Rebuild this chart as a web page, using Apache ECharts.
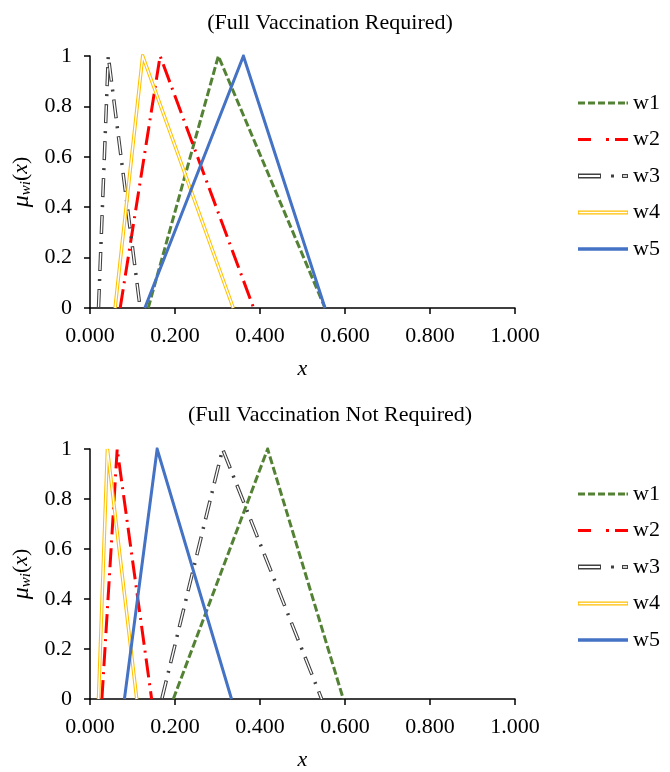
<!DOCTYPE html>
<html><head><meta charset="utf-8">
<script src="https://cdn.jsdelivr.net/npm/echarts@6/dist/echarts.min.js"></script>
<style>html,body{margin:0;padding:0;background:#fff}#c{width:670px;height:772px}</style>
</head><body><div id="c"></div>
<script>
// ---------- data ----------
const seriesNames = ['w1', 'w2', 'w3', 'w4', 'w5'];
const membership = [0, 1, 0];            // membership at left foot, peak, right foot
// x positions (left foot, peak, right foot) — Full Vaccination Required
const topW1 = [0.137, 0.302, 0.553];
const topW2 = [0.071, 0.165, 0.385];
const topW3 = [0.020, 0.043, 0.118];
const topW4 = [0.059, 0.124, 0.337];
const topW5 = [0.129, 0.361, 0.553];
// x positions — Full Vaccination Not Required
const botW1 = [0.196, 0.418, 0.596];
const botW2 = [0.028, 0.064, 0.145];
const botW3 = [0.169, 0.312, 0.545];
const botW4 = [0.020, 0.041, 0.110];
const botW5 = [0.081, 0.158, 0.333];
const xTickLabels = ['0.000', '0.200', '0.400', '0.600', '0.800', '1.000'];
const yTickLabels = ['0', '0.2', '0.4', '0.6', '0.8', '1'];
const titles = ['(Full Vaccination Required)', '(Full Vaccination Not Required)'];

// ---------- styles ----------
const FONT = "'Liberation Serif','Times New Roman',serif";
const styles = {
  w1: { color: '#548235', width: 3, type: [8, 3],
        icon: 'path://M0,0H7V3H0Z M10,0H17V3H10Z M20,0H27V3H20Z M30,0H37V3H30Z M40,0H47V3H40Z M48.5,0H50V3H48.5Z' },
  w2: { color: '#FF0000', width: 3, type: [19, 6, 2, 6],
        icon: 'path://M0,0H13V3H0Z M28,0H31V3H28Z M37,0H50V3H37Z' },
  w3: { color: '#404040', width: 3.5, type: [19, 8, 2, 8], inner: { width: 1.4, type: [0, 1, 17, 19] },
        icon: 'path://M0,0H23V5H0Z M1,1.5V3.5H22V1.5Z M33,1H36V4H33Z M44,0.5H50V4.5H44Z M45,1.7V3.3H49V1.7Z' },
  w4: { color: '#FFC000', width: 3.5, type: 'solid', inner: { width: 1.4, type: 'solid' },
        icon: 'path://M0,0H50V4H0Z M0.8,1.2V2.8H49.2V1.2Z' },
  w5: { color: '#4472C4', width: 3, type: 'solid', icon: 'path://M0,0H50V3.5H0Z' }
};

const panels = [
  { sets: [topW1, topW2, topW3, topW4, topW5], gridTop: 56, legendTop: 87, titleTop: 7 },
  { sets: [botW1, botW2, botW3, botW4, botW5], gridTop: 449, legendTop: 478, titleTop: 399 }
];

const option = {
  backgroundColor: '#fff',
  animation: false,
  title: [], grid: [], xAxis: [], yAxis: [], legend: [], series: []
};

panels.forEach((p, pi) => {
  option.title.push({
    text: titles[pi], left: 325, top: p.titleTop, textAlign: 'center',
    textStyle: { fontFamily: FONT, fontSize: 22, fontWeight: 'normal', color: '#000' }
  });
  option.grid.push({ left: 90, width: 425, top: p.gridTop, height: 252 });
  option.xAxis.push({
    type: 'value', gridIndex: pi, min: 0, max: 1, interval: 0.2,
    name: 'x', nameLocation: 'middle', nameGap: 50,
    nameTextStyle: { fontFamily: FONT, fontSize: 22, fontStyle: 'italic', color: '#000' },
    axisLine: { show: true, lineStyle: { color: '#000', width: 1.5 } },
    axisTick: { show: true, length: 6, lineStyle: { color: '#000', width: 1.5 } },
    axisLabel: {
      margin: 17, fontFamily: FONT, fontSize: 22, color: '#000',
      formatter: v => xTickLabels[Math.round(v / 0.2)]
    },
    splitLine: { show: false }
  });
  option.yAxis.push({
    type: 'value', gridIndex: pi, min: 0, max: 1, interval: 0.2,
    name: '{mu|μ}{sub|wi}{n|(}{it|x}{n|)}', nameLocation: 'middle', nameGap: 44,
    nameTextStyle: {
      fontFamily: FONT, fontSize: 22, color: '#000',
      rich: {
        mu: { fontFamily: FONT, fontSize: 24, fontStyle: 'italic', color: '#000' },
        sub: { fontFamily: FONT, fontSize: 15, fontStyle: 'italic', color: '#000', verticalAlign: 'bottom', padding: [9, 0, 0, 0] },
        n: { fontFamily: FONT, fontSize: 22, color: '#000' },
        it: { fontFamily: FONT, fontSize: 22, fontStyle: 'italic', color: '#000' }
      }
    },
    axisLine: { show: true, lineStyle: { color: '#000', width: 1.5 } },
    axisTick: { show: true, length: 6, lineStyle: { color: '#000', width: 1.5 } },
    axisLabel: {
      margin: 18, fontFamily: FONT, fontSize: 22, color: '#000',
      formatter: v => yTickLabels[Math.round(v / 0.2)]
    },
    splitLine: { show: false }
  });
  option.legend.push({
    orient: 'vertical', left: 573, top: p.legendTop,
    itemWidth: 50, itemHeight: 14, itemGap: 14.5,
    textStyle: { fontFamily: FONT, fontSize: 22, color: '#000', lineHeight: 22 },
    data: seriesNames.map(n => ({ name: n, icon: styles[n].icon, itemStyle: { borderWidth: 0 } }))
  });
  p.sets.forEach((xs, si) => {
    const name = seriesNames[si];
    const st = styles[name];
    const data = xs.map((x, k) => [x, membership[k]]);
    option.series.push({
      type: 'line', name, xAxisIndex: pi, yAxisIndex: pi, data,
      symbol: 'none', showSymbol: false, color: st.color,
      lineStyle: { color: st.color, width: st.width, type: st.type, join: 'miter', cap: 'butt' }
    });
    if (st.inner) {
      option.series.push({
        type: 'line', name: name + '_inner', xAxisIndex: pi, yAxisIndex: pi, data,
        symbol: 'none', showSymbol: false, color: '#fff', silent: true,
        lineStyle: { color: '#fff', width: st.inner.width, type: st.inner.type, join: 'miter', cap: 'butt' }
      });
    }
  });
});

const chart = echarts.init(document.getElementById('c'), null, { renderer: 'canvas' });
chart.setOption(option);
</script>
</body></html>
